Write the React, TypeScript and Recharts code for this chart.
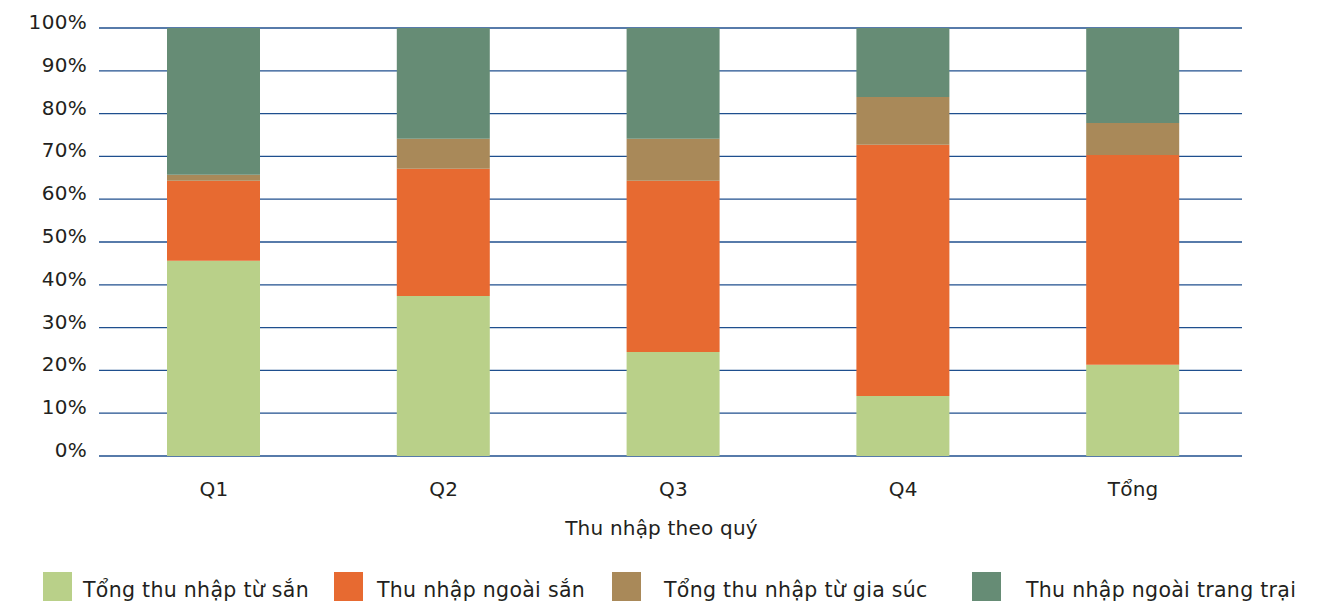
import React from 'react';
import { Bar, BarChart, CartesianGrid, Legend, XAxis, YAxis } from 'recharts';

const categories = ['Q1', 'Q2', 'Q3', 'Q4', 'Tổng'];
const fromCassava = [45.6, 37.4, 24.3, 14.0, 21.3];
const offCassava = [18.7, 29.7, 40.0, 58.7, 49.0];
const fromLivestock = [1.4, 7.0, 9.8, 11.2, 7.5];
const offFarm = [34.3, 25.9, 25.9, 16.1, 22.2];
const yTicks = [0, 10, 20, 30, 40, 50, 60, 70, 80, 90, 100];

const seriesDefs = [
  { key: 'cassava', name: 'Tổng thu nhập từ sắn', color: '#b9d089' },
  { key: 'offCassava', name: 'Thu nhập ngoài sắn', color: '#e76a31' },
  { key: 'livestock', name: 'Tổng thu nhập từ gia súc', color: '#a98959' },
  { key: 'offFarm', name: 'Thu nhập ngoài trang trại', color: '#668c75' },
];

const data = categories.map((name, i) => ({
  name,
  cassava: fromCassava[i],
  offCassava: offCassava[i],
  livestock: fromLivestock[i],
  offFarm: offFarm[i],
}));

const FONT = '"DejaVu Sans", sans-serif';
const TEXT = '#231f20';
const GRID = '#1f4f8e';

// left edges of legend swatches, taken from the reference layout
const legendLeft = [43, 334, 612, 972];
const legendTextGap = [11, 14, 23, 25];

const YTick = (props: any) => {
  const { y, payload } = props;
  return (
    <text x={87} y={y - 6} dy="0.35em" textAnchor="end" fill={TEXT} fontSize={20} letterSpacing={0.3} fontFamily={FONT}>
      {payload.value}%
    </text>
  );
};

const XTick = (props: any) => {
  const { x, y, payload } = props;
  return (
    <text x={x} y={y + 25} dy="0.35em" textAnchor="middle" fill={TEXT} fontSize={20} letterSpacing={0.2} fontFamily={FONT}>
      {payload.value}
    </text>
  );
};

// axis title sits a bit left of the plot centre in the reference
const AxisTitle = (props: any) => {
  const { viewBox } = props;
  return (
    <text
      x={viewBox.x + viewBox.width / 2 - 12}
      y={viewBox.y + 72}
      dy="0.35em"
      textAnchor="middle"
      fill={TEXT}
      fontSize={20}
      letterSpacing={0.2}
      fontFamily={FONT}
    >
      Thu nhập theo quý
    </text>
  );
};

// grid lines stop a little short of the plot's right edge, as in the reference
const GridLine = (props: any) => (
  <line x1={props.x1} y1={props.y1} x2={props.x2 - 6} y2={props.y2} stroke={GRID} strokeWidth={1.3} />
);

const LegendContent = () => (
  <div style={{ position: 'relative', height: 45, fontFamily: FONT, fontSize: 20.5, letterSpacing: 0.3, color: TEXT }}>
    {seriesDefs.map((s, i) => (
      <div
        key={s.key}
        style={{ position: 'absolute', left: legendLeft[i], top: 12, display: 'flex', alignItems: 'center', whiteSpace: 'nowrap' }}
      >
        <span style={{ display: 'inline-block', width: 29, height: 29, background: s.color, marginRight: legendTextGap[i] }} />
        <span style={{ position: 'relative', top: 3 }}>{s.name}</span>
      </div>
    ))}
  </div>
);

export default function App() {
  return (
    <div style={{ position: 'absolute', left: 0, top: 0, background: '#fff' }}>
      <BarChart width={1326} height={605} data={data} margin={{ top: 28, right: 78, left: 0, bottom: 0 }}>
        <CartesianGrid vertical={false} horizontal={<GridLine />} />
        <XAxis
          dataKey="name"
          axisLine={false}
          tickLine={false}
          height={104}
          tick={<XTick />}
          interval={0}
          label={<AxisTitle />}
        />
        <YAxis
          width={99}
          domain={[0, 100]}
          ticks={yTicks}
          axisLine={false}
          tickLine={false}
          tick={<YTick />}
          interval={0}
        />
        <Legend verticalAlign="bottom" height={45} content={<LegendContent />} />
        {seriesDefs.map((s) => (
          <Bar key={s.key} dataKey={s.key} name={s.name} stackId="a" fill={s.color} barSize={93} isAnimationActive={false} />
        ))}
      </BarChart>
    </div>
  );
}
